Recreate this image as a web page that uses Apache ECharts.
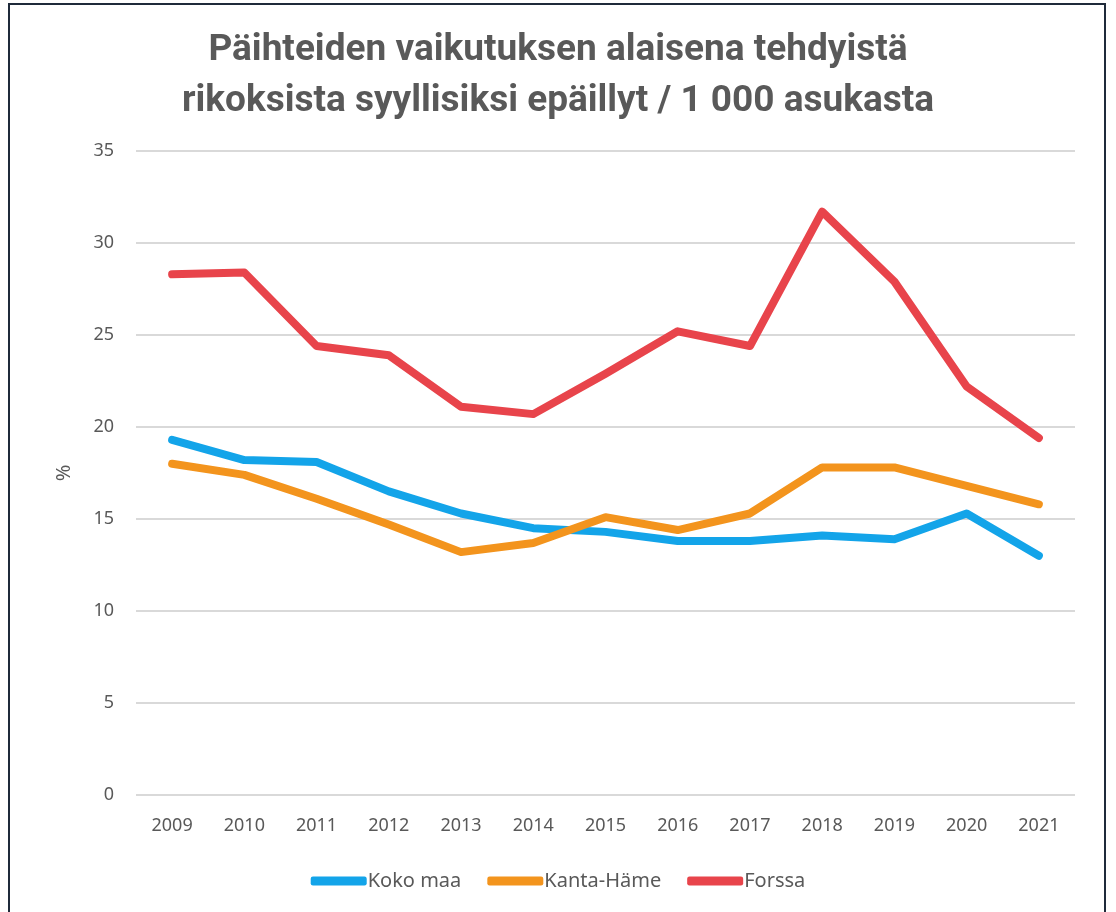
<!DOCTYPE html>
<html>
<head>
<meta charset="utf-8">
<script src="https://cdn.jsdelivr.net/npm/echarts@6/dist/echarts.min.js"></script>
<style>
  html, body { margin: 0; padding: 0; background: #ffffff; }
  #chart { position: absolute; left: 0; top: 0; width: 1116px; height: 912px; }
  #frame {
    position: absolute; left: 8px; top: 3px; width: 1098px; height: 940px;
    border: 2px solid #1f2a3a; box-sizing: border-box; pointer-events: none;
  }
</style>
</head>
<body>
<div id="chart"></div>
<div id="frame"></div>
<script>
const years = ['2009', '2010', '2011', '2012', '2013', '2014', '2015', '2016', '2017', '2018', '2019', '2020', '2021'];
const kokoMaa = [19.3, 18.2, 18.1, 16.5, 15.3, 14.5, 14.3, 13.8, 13.8, 14.1, 13.9, 15.3, 13.0];
const kantaHame = [18.0, 17.4, 16.1, 14.7, 13.2, 13.7, 15.1, 14.4, 15.3, 17.8, 17.8, 16.8, 15.8];
const forssa = [28.3, 28.4, 24.4, 23.9, 21.1, 20.7, 22.9, 25.2, 24.4, 31.7, 27.9, 22.2, 19.4];

const textColor = '#595959';
const labelFont = '"Noto Sans", "Open Sans", sans-serif';

const chart = echarts.init(document.getElementById('chart'));

function lineSeries(name, data, color) {
  return {
    type: 'line',
    name,
    data,
    symbol: 'none',
    lineStyle: { color, width: 8, cap: 'round', join: 'round' },
    itemStyle: { color },
  };
}

chart.setOption({
  animation: false,
  title: {
    text: 'Päihteiden vaikutuksen alaisena tehdyistä\nrikoksista syyllisiksi epäillyt / 1 000 asukasta',
    left: 'center',
    top: 20,
    textStyle: {
      fontFamily: 'Roboto, "Noto Sans", sans-serif',
      fontSize: 37,
      fontWeight: 'bold',
      color: textColor,
      lineHeight: 51,
    },
  },
  grid: { left: 136, right: 41, top: 151, bottom: 117 },
  legend: {
    bottom: 16,
    left: 'center',
    itemWidth: 56,
    itemHeight: 9,
    itemGap: 26,
    icon: 'roundRect',
    textStyle: { fontFamily: labelFont, fontSize: 20, color: textColor, padding: [0, 0, 0, -4] },
    data: ['Koko maa', 'Kanta-Häme', 'Forssa'],
  },
  xAxis: {
    type: 'category',
    data: years,
    boundaryGap: true,
    axisLine: { show: false },
    axisTick: { show: false },
    axisLabel: { fontFamily: labelFont, fontSize: 18, color: textColor, margin: 22 },
  },
  yAxis: {
    type: 'value',
    min: 0,
    max: 35,
    interval: 5,
    name: '%',
    nameLocation: 'middle',
    nameGap: 62,
    nameTextStyle: { fontFamily: labelFont, fontSize: 20, color: textColor },
    axisLine: { show: false },
    axisTick: { show: false },
    axisLabel: { fontFamily: labelFont, fontSize: 18, color: textColor, margin: 22 },
    splitLine: { lineStyle: { color: '#d9d9d9', width: 2 } },
  },
  series: [
    lineSeries('Koko maa', kokoMaa, '#13a4e9'),
    lineSeries('Kanta-Häme', kantaHame, '#f3941d'),
    lineSeries('Forssa', forssa, '#e8444b'),
  ],
});
</script>
</body>
</html>
